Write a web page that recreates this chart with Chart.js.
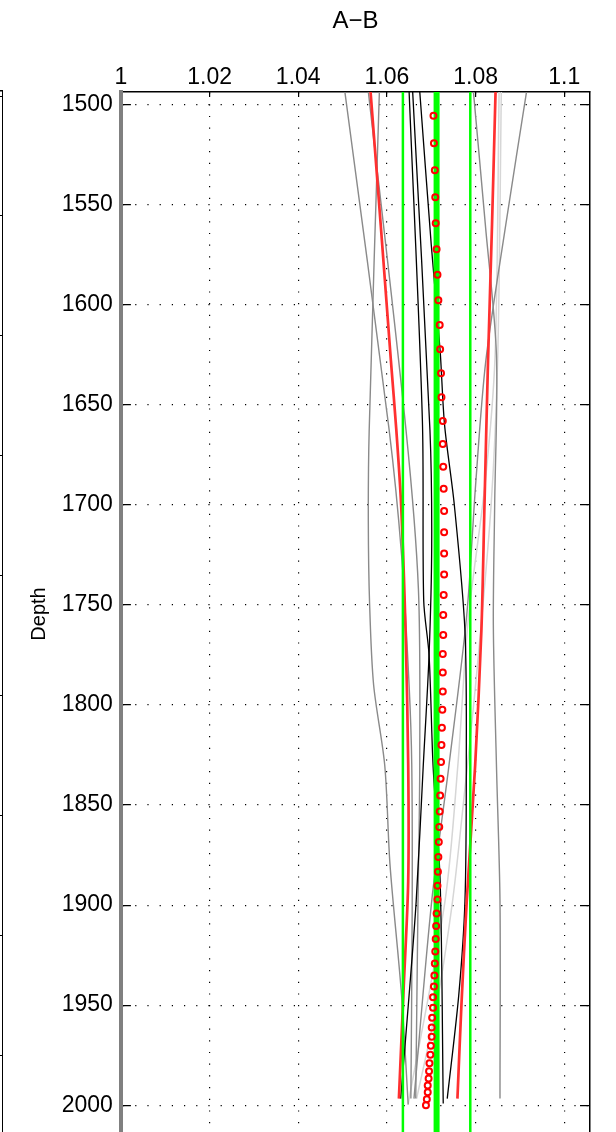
<!DOCTYPE html>
<html>
<head>
<meta charset="utf-8">
<script src="https://cdn.jsdelivr.net/npm/chart.js@4.4.1/dist/chart.umd.min.js"></script>
<style>
  html, body { margin: 0; padding: 0; background: #fff; overflow: hidden; }
  #wrap { position: relative; width: 616px; height: 1132px; overflow: hidden; }
  #side { position: absolute; left: -297px; top: 0; }
  #main { position: absolute; left: 0; top: 0; }
</style>
</head>
<body>
<div id="wrap">
  <canvas id="side" width="300" height="1142"></canvas>
  <canvas id="main" width="616" height="1142"></canvas>
</div>
<script>
// axis ticks
const xTicks = [1, 1.02, 1.04, 1.06, 1.08, 1.1];
const xTickLabels = ['1', '1.02', '1.04', '1.06', '1.08', '1.1'];
const yTicks = [1500, 1550, 1600, 1650, 1700, 1750, 1800, 1850, 1900, 1950, 2000];
const yTickLabels = ['1500', '1550', '1600', '1650', '1700', '1750', '1800', '1850', '1900', '1950', '2000'];

// red circles
const circleDepth = [1505.5, 1519.2, 1532.7, 1546.2, 1559.2, 1572.2, 1585.0, 1597.7, 1610.0, 1622.2,
  1634.2, 1646.2, 1658.0, 1669.5, 1680.9, 1691.9, 1703.0, 1713.7, 1724.2, 1734.7,
  1745.0, 1755.0, 1765.0, 1774.5, 1783.8, 1793.2, 1802.3, 1811.3, 1820.0, 1828.5,
  1836.8, 1845.2, 1853.2, 1861.0, 1868.5, 1876.0, 1883.3, 1890.3, 1897.2, 1904.2,
  1910.5, 1917.0, 1923.2, 1929.2, 1935.2, 1940.7, 1946.0, 1951.3, 1956.3, 1961.2,
  1965.8, 1970.3, 1974.8, 1979.0, 1983.0, 1986.7, 1990.2, 1993.5, 1997.0, 2000.0];
const circleValue = [1.0705, 1.0706, 1.0708, 1.0709, 1.0710, 1.0712, 1.0714, 1.0716, 1.0719, 1.0720,
  1.0722, 1.0723, 1.0726, 1.0726, 1.0727, 1.0728, 1.0729, 1.0729, 1.0729, 1.0729,
  1.0728, 1.0727, 1.0727, 1.0726, 1.0726, 1.0726, 1.0725, 1.0724, 1.0723, 1.0722,
  1.0721, 1.0720, 1.0719, 1.0718, 1.0717, 1.0716, 1.0715, 1.0714, 1.0714, 1.0712,
  1.0711, 1.0710, 1.0709, 1.0708, 1.0707, 1.0706, 1.0704, 1.0704, 1.0702, 1.0701,
  1.0701, 1.0699, 1.0698, 1.0696, 1.0695, 1.0694, 1.0692, 1.0692, 1.0690, 1.0688];

// green verticals
const greenDepth = [1490, 2020];
const greenMid = 1.0712;
const greenLow = 1.0636;
const greenHigh = 1.0788;

// red envelopes
const redLeftDepth = [1493.3, 1560, 1628, 1662, 1700, 1763, 1830, 1888, 1940, 1996.7];
const redLeftValue = [1.0563, 1.0586, 1.0609, 1.0621, 1.0632, 1.0642, 1.0648, 1.0648, 1.0638, 1.0627];
const redRightDepth = [1493.3, 1560, 1628, 1700, 1763, 1830, 1898, 1950, 1996.7];
const redRightValue = [1.0845, 1.0837, 1.0828, 1.0820, 1.0813, 1.0799, 1.0780, 1.0768, 1.0759];

// black curves
const black1Depth = [1493.3, 1658, 1748, 1775, 1830, 1888, 1999.2];
const black1Value = [1.0650, 1.0680, 1.0683, 1.0695, 1.0704, 1.0720, 1.0727];
const black2Depth = [1493.3, 1662.5, 1720, 1775, 1830, 1898, 1945, 1996.7];
const black2Value = [1.0658, 1.0697, 1.0701, 1.0695, 1.0682, 1.0666, 1.0650, 1.0631];
const black3Depth = [1493.3, 1570, 1623, 1660, 1700, 1763, 1830, 1898, 1945, 1996.7];
const black3Value = [1.0674, 1.0700, 1.0720, 1.0730, 1.0752, 1.0776, 1.0779, 1.0776, 1.0762, 1.0736];

// grey curves
const greyADepth = [1493.3, 1662.5, 1725, 1790, 1830, 1900, 1996.7];
const greyAValue = [1.0505, 1.0605, 1.0633, 1.0650, 1.0656, 1.0657, 1.0654];
const greyBDepth = [1493.3, 1662.5, 1742, 1830, 1900, 1996.7];
const greyBValue = [1.0558, 1.0643, 1.0671, 1.0674, 1.0670, 1.0665];
const greyCDepth = [1493.3, 1662.5, 1708, 1750, 1790, 1830, 1880, 1945, 1999.7];
const greyCValue = [1.0583, 1.0560, 1.0558, 1.0561, 1.0570, 1.0595, 1.0607, 1.0633, 1.0648];
const greyDDepth = [1493.3, 1560, 1625, 1700, 1760, 1830, 1898, 1996.7];
const greyDValue = [1.0795, 1.0822, 1.0847, 1.0843, 1.0840, 1.0847, 1.0855, 1.0855];
const greyEDepth = [1493.3, 1560, 1628, 1690, 1755, 1830, 1898, 1996.7];
const greyEValue = [1.0915, 1.0868, 1.0823, 1.0800, 1.0780, 1.0740, 1.0701, 1.0661];

// light grey curves
const light1Depth = [1493.3, 1625, 1688, 1758, 1830, 1898, 1999.2];
const light1Value = [1.0853, 1.0844, 1.0822, 1.0783, 1.0760, 1.0731, 1.0648];
const light2Depth = [1493.3, 1625, 1700, 1790, 1850, 1898, 1950, 1996.7];
const light2Value = [1.0858, 1.0850, 1.0835, 1.0800, 1.0772, 1.0748, 1.0712, 1.0667];

const X_MIN = 1, X_MAX = 1.1058;
const Y_MIN = 1493.6, Y_MAX = 2015.4;
const PLOT_W = 469.1;

Chart.defaults.font.family = "'Liberation Sans', Arial, Helvetica, sans-serif";
Chart.defaults.color = '#000';

function pts(depths, values) {
  return depths.map((d, i) => ({ x: values[i], y: d }));
}

function curve(label, depths, values, color, width) {
  return {
    label: label,
    data: pts(depths, values),
    showLine: true,
    borderColor: color,
    borderWidth: width,
    pointRadius: 0,
    pointHoverRadius: 0,
    tension: 0.3,
    fill: false
  };
}

function vline(label, value, color, width) {
  return curve(label, greenDepth, greenDepth.map(() => value), color, width);
}

const setXTicks = s => { s.ticks = xTicks.map(v => ({ value: v })); };
const setYTicks = s => { s.ticks = yTicks.map(v => ({ value: v })); };

const datasets = [
  {
    label: 'A-B',
    data: pts(circleDepth, circleValue),
    showLine: false,
    pointStyle: 'circle',
    pointRadius: 3,
    pointBorderWidth: 2,
    pointBorderColor: '#ff0000',
    pointBackgroundColor: 'rgba(255,255,255,0)'
  },
  vline('mean', greenMid, '#00ff00', 6),
  vline('low', greenLow, '#00ff00', 2.5),
  vline('high', greenHigh, '#00ff00', 2.5),
  curve('red left', redLeftDepth, redLeftValue, '#ff3030', 2.7),
  curve('red right', redRightDepth, redRightValue, '#ff3030', 2.7),
  curve('black 1', black1Depth, black1Value, '#000000', 1.3),
  curve('black 2', black2Depth, black2Value, '#000000', 1.3),
  curve('black 3', black3Depth, black3Value, '#000000', 1.3),
  curve('grey A', greyADepth, greyAValue, '#8a8a8a', 1.4),
  curve('grey B', greyBDepth, greyBValue, '#8a8a8a', 1.4),
  curve('grey C', greyCDepth, greyCValue, '#8a8a8a', 1.4),
  curve('grey D', greyDDepth, greyDValue, '#8a8a8a', 1.4),
  curve('grey E', greyEDepth, greyEValue, '#8a8a8a', 1.4),
  curve('light 1', light1Depth, light1Value, '#d6d6d6', 1.5),
  curve('light 2', light2Depth, light2Value, '#d6d6d6', 1.5)
];

new Chart(document.getElementById('main'), {
  type: 'scatter',
  data: { datasets: datasets },
  options: {
    responsive: false,
    animation: false,
    events: [],
    layout: { padding: { left: 0, right: 26, top: 0, bottom: 2 } },
    plugins: {
      legend: { display: false },
      tooltip: { enabled: false },
      title: {
        display: true,
        text: 'A\u2212B',
        fullSize: false,
        color: '#000',
        font: { size: 24, weight: 'normal' },
        padding: { top: 6.5, bottom: 16.7 }
      }
    },
    scales: {
      x: {
        type: 'linear', position: 'top', min: X_MIN, max: X_MAX,
        afterBuildTicks: setXTicks,
        ticks: {
          padding: 0.5, font: { size: 23 },
          callback: v => {
            const i = xTicks.findIndex(t => Math.abs(t - v) < 1e-6);
            return i >= 0 ? xTickLabels[i] : '';
          }
        },
        grid: { color: '#000', lineWidth: 1.2, drawTicks: false },
        border: { display: true, color: '#000', width: 1.5, dash: [1.2, 10.5] },
        afterFit: s => { s.height = 40; s.paddingLeft = 0; s.paddingRight = 0; }
      },
      xt: {
        type: 'linear', position: 'top', min: X_MIN, max: X_MAX,
        afterBuildTicks: setXTicks,
        ticks: { display: false },
        grid: { color: '#000', lineWidth: 1.2, drawTicks: false },
        border: { display: false, dash: [5, 3000] },
        afterFit: s => { s.height = 0; s.paddingLeft = 0; s.paddingRight = 0; }
      },
      y: {
        type: 'linear', position: 'left', reverse: true, min: Y_MIN, max: Y_MAX,
        afterBuildTicks: setYTicks,
        ticks: {
          padding: 8, font: { size: 23 },
          callback: v => {
            const i = yTicks.indexOf(Math.round(v));
            return i >= 0 ? yTickLabels[i] : '';
          }
        },
        grid: { color: '#000', lineWidth: 1.2, drawTicks: false },
        border: { display: true, color: '#808080', width: 4, dash: [1.2, 11] },
        title: { display: true, text: 'Depth', color: '#000', font: { size: 20 }, padding: { top: 27, bottom: 0 } },
        afterFit: s => { s.width = 120.9; s.paddingTop = 0; s.paddingBottom = 0; }
      },
      yt: {
        type: 'linear', position: 'right', reverse: true, min: Y_MIN, max: Y_MAX,
        afterBuildTicks: setYTicks,
        ticks: { display: false },
        grid: { color: '#000', lineWidth: 1.2, drawTicks: false },
        border: { display: true, color: '#000', width: 1.5, dash: [10, PLOT_W - 20, 10, 3000] },
        afterFit: s => { s.width = 0; s.paddingTop = 0; s.paddingBottom = 0; }
      }
    }
  }
});

// edge of the neighbouring panel on the left
const SIDE_MIN = -1.047, SIDE_MAX = 7.709;
new Chart(document.getElementById('side'), {
  type: 'scatter',
  data: { datasets: [] },
  options: {
    responsive: false,
    animation: false,
    events: [],
    layout: { padding: { left: 0, right: 0, top: 0, bottom: 2 } },
    plugins: { legend: { display: false }, tooltip: { enabled: false } },
    scales: {
      x: {
        type: 'linear', position: 'top', min: 0, max: 1,
        ticks: { display: false }, grid: { display: false },
        border: { display: true, color: '#000', width: 1.5 },
        afterFit: s => { s.height = 90.5; s.paddingLeft = 0; s.paddingRight = 0; }
      },
      y: {
        type: 'linear', position: 'right', reverse: true, min: SIDE_MIN, max: SIDE_MAX,
        ticks: { display: false, stepSize: 1, includeBounds: false },
        grid: { color: '#000', lineWidth: 1, drawTicks: false },
        border: { display: true, color: '#000', width: 1.5 },
        afterFit: s => { s.width = 0; s.paddingTop = 0; s.paddingBottom = 0; }
      }
    }
  }
});
</script>
</body>
</html>
